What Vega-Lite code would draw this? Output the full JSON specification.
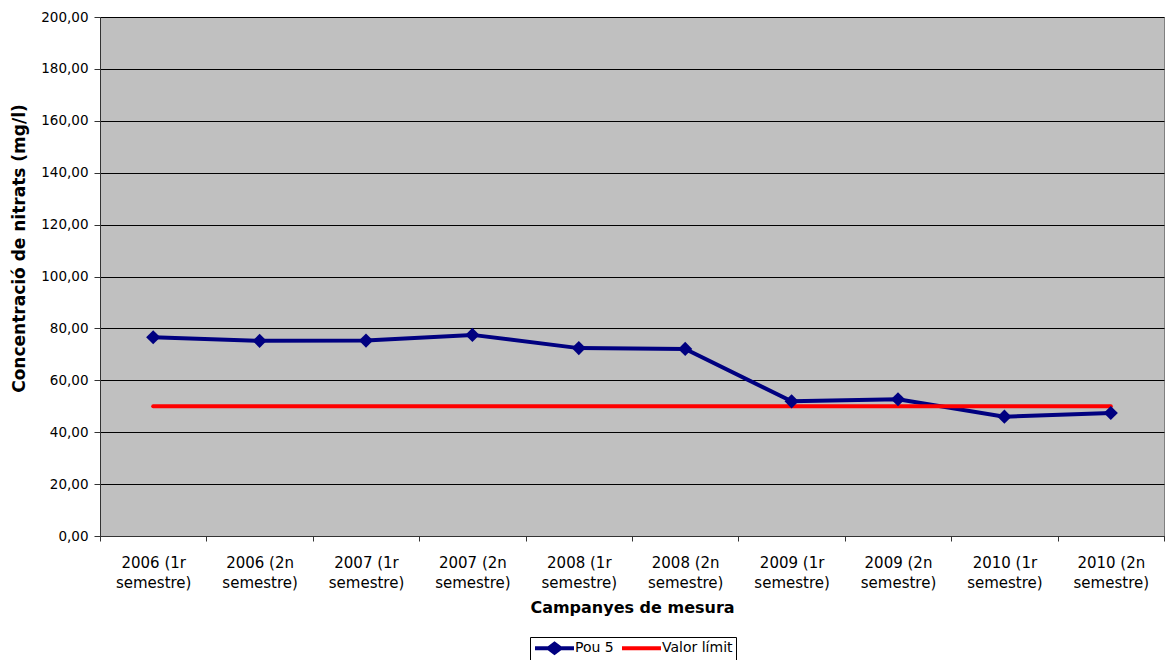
{
  "$schema": "https://vega.github.io/schema/vega-lite/v6.json",
  "width": 1064,
  "height": 519,
  "autosize": {"type": "none"},
  "padding": {"left": 100, "top": 17, "right": 1, "bottom": 124},
  "background": "#ffffff",
  "config": {
    "font": "DejaVu Sans",
    "view": {"fill": "#c0c0c0", "stroke": "#808080", "strokeWidth": 1}
  },
  "data": {
    "values": [
      {"campanya": "2006 (1r semestre)", "serie": "Pou 5", "valor": 76.6},
      {"campanya": "2006 (2n semestre)", "serie": "Pou 5", "valor": 75.2},
      {"campanya": "2007 (1r semestre)", "serie": "Pou 5", "valor": 75.3},
      {"campanya": "2007 (2n semestre)", "serie": "Pou 5", "valor": 77.5},
      {"campanya": "2008 (1r semestre)", "serie": "Pou 5", "valor": 72.4},
      {"campanya": "2008 (2n semestre)", "serie": "Pou 5", "valor": 72.1},
      {"campanya": "2009 (1r semestre)", "serie": "Pou 5", "valor": 51.9},
      {"campanya": "2009 (2n semestre)", "serie": "Pou 5", "valor": 52.7},
      {"campanya": "2010 (1r semestre)", "serie": "Pou 5", "valor": 46.0},
      {"campanya": "2010 (2n semestre)", "serie": "Pou 5", "valor": 47.4},
      {"campanya": "2006 (1r semestre)", "serie": "Valor límit", "valor": 50},
      {"campanya": "2006 (2n semestre)", "serie": "Valor límit", "valor": 50},
      {"campanya": "2007 (1r semestre)", "serie": "Valor límit", "valor": 50},
      {"campanya": "2007 (2n semestre)", "serie": "Valor límit", "valor": 50},
      {"campanya": "2008 (1r semestre)", "serie": "Valor límit", "valor": 50},
      {"campanya": "2008 (2n semestre)", "serie": "Valor límit", "valor": 50},
      {"campanya": "2009 (1r semestre)", "serie": "Valor límit", "valor": 50},
      {"campanya": "2009 (2n semestre)", "serie": "Valor límit", "valor": 50},
      {"campanya": "2010 (1r semestre)", "serie": "Valor límit", "valor": 50},
      {"campanya": "2010 (2n semestre)", "serie": "Valor límit", "valor": 50}
    ]
  },
  "encoding": {
    "x": {
      "field": "campanya",
      "type": "ordinal",
      "sort": null,
      "scale": {"type": "band", "paddingInner": 0, "paddingOuter": 0},
      "axis": {
        "title": "Campanyes de mesura",
        "titleFontSize": 16,
        "titleFontWeight": "bold",
        "titleColor": "#000000",
        "titlePadding": 9,
        "labelAngle": 0,
        "labelFontSize": 15,
        "labelColor": "#000000",
        "labelLineHeight": 20,
        "labelPadding": 14,
        "labelExpr": "[substring(datum.label, 0, 8), substring(datum.label, 9)]",
        "tickBand": "extent",
        "tickColor": "#333333",
        "tickSize": 5,
        "domainColor": "#333333",
        "grid": false
      }
    },
    "y": {
      "field": "valor",
      "type": "quantitative",
      "scale": {"domain": [0, 200], "nice": false},
      "axis": {
        "title": "Concentració de nitrats (mg/l)",
        "titleFontSize": 17,
        "titleFontWeight": "bold",
        "titleColor": "#000000",
        "titlePadding": 12,
        "titleY": 231,
        "values": [0, 20, 40, 60, 80, 100, 120, 140, 160, 180, 200],
        "labelExpr": "replace(format(datum.value, '.2f'), '.', ',')",
        "labelFontSize": 13.5,
        "labelColor": "#000000",
        "labelPadding": 6,
        "tickColor": "#333333",
        "tickSize": 6,
        "domainColor": "#333333",
        "grid": true,
        "gridColor": "#000000",
        "gridOpacity": 1,
        "gridWidth": 1
      }
    }
  },
  "layer": [
    {
      "mark": {"type": "line", "strokeWidth": 4, "strokeCap": "round"},
      "encoding": {
        "color": {
          "field": "serie",
          "type": "nominal",
          "scale": {"domain": ["Pou 5", "Valor límit"], "range": ["#000080", "#ff0000"]},
          "legend": {
            "title": null,
            "orient": "none",
            "legendX": 430,
            "legendY": 620,
            "direction": "horizontal",
            "strokeColor": "#000000",
            "fillColor": "#ffffff",
            "padding": 3,
            "columnPadding": 0,
            "labelFontSize": 14,
            "labelColor": "#000000",
            "labelOffset": 26,
            "symbolSize": 144,
            "symbolStrokeWidth": 4,
            "encode": {
              "symbols": {
                "update": {
                  "shape": {"signal": "datum.value === 'Pou 5' ? 'M-1,0H5.5M1.25,0L2.25,-0.75L3.25,0L2.25,0.75Z' : 'M-1,0H5.5M2.25,-0.75M2.25,0.75'"},
                  "fill": {"signal": "datum.value === 'Pou 5' ? '#000080' : 'transparent'"},
                  "stroke": {"signal": "datum.value === 'Pou 5' ? '#000080' : '#ff0000'"},
                  "strokeWidth": {"value": 4}
                }
              }
            }
          }
        }
      }
    },
    {
      "transform": [{"filter": "datum.serie === 'Pou 5'"}],
      "mark": {"type": "point", "shape": "diamond", "filled": true, "size": 200, "color": "#000080", "opacity": 1}
    }
  ]
}
